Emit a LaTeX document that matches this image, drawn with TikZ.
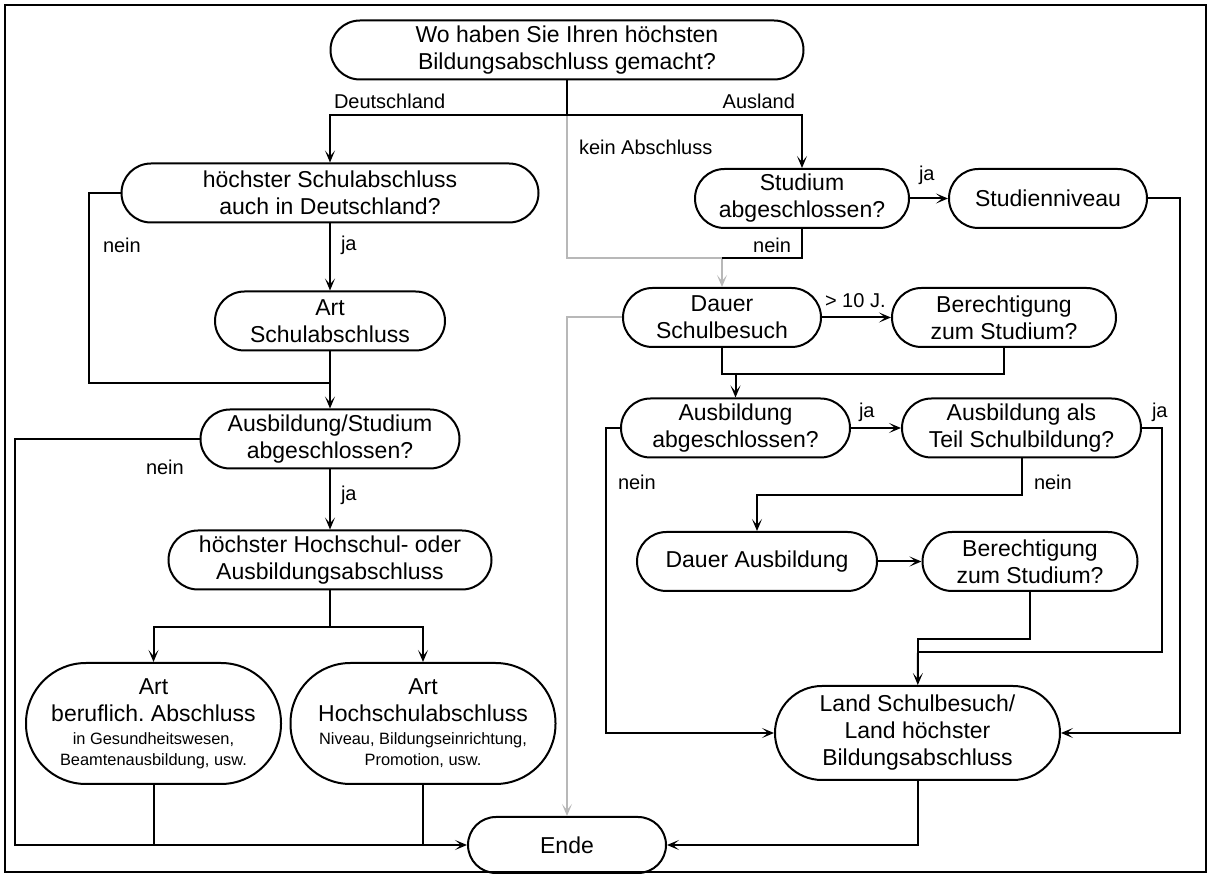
\documentclass[tikz,border=0pt]{standalone}
\usepackage{fontspec}
\setmainfont{Liberation Sans}
\usepackage{xcolor}
\usetikzlibrary{arrows.meta, positioning}
\definecolor{lightline}{gray}{0.72}
\newcommand{\boxfont}{\fontsize{11.5}{13.5}\selectfont}
\newcommand{\labelfont}{\fontsize{10}{12}\selectfont}
\newcommand{\notefont}{\fontsize{8.2}{9.4}\selectfont}

\begin{document}
\begin{tikzpicture}
      [x=0.5pt, y=-0.5pt, line width=1pt,
       >={Stealth[length=6pt,width=5pt,inset=3pt]},
       pill/.style={rectangle, draw=black, line width=1pt, rounded corners=14.75pt,
                    inner sep=0pt, align=center, font=\boxfont, minimum height=29.5pt},
       tag/.style={inner sep=0pt, font=\labelfont},
       faint/.style={draw=lightline}]
        \useasboundingbox (0,0) rectangle (1212,876);
        \draw[line width=0.8pt] (5,5) rectangle (1206,872);

        % left column
        \node (wo) at (567,50) [pill, minimum width=236.5pt] {Wo haben Sie Ihren höchsten\\Bildungsabschluss gemacht?};
        \node (schul) at (330,193) [pill, minimum width=208.5pt] {höchster Schulabschluss\\auch in Deutschland?};
        \node (artschul) at (330,321) [pill, minimum width=115pt] {Art\\Schulabschluss};
        \node (ausstud) at (330,439) [pill, minimum width=129.5pt] {Ausbildung/Studium\\abgeschlossen?};
        \node (hochaus) at (330,560) [pill, minimum width=161.5pt] {höchster Hochschul- oder\\Ausbildungsabschluss};
        \node (artberuf) at (153.5,723.5) [pill, minimum width=127.5pt, minimum height=60.5pt, rounded corners=30pt]
          {Art\\beruflich.\ Abschluss\\[-2pt]{\notefont in Gesundheitswesen,}\\[-3pt]{\notefont Beamtenausbildung, usw.}};
        \node (arthoch) at (423,723.5) [pill, minimum width=132.5pt, minimum height=60.5pt, rounded corners=30pt]
          {Art\\Hochschulabschluss\\[-2pt]{\notefont Niveau, Bildungseinrichtung,}\\[-3pt]{\notefont Promotion, usw.}};
        \node (ende) at (567,845) [pill, minimum width=99pt, minimum height=28pt, rounded corners=14pt] {Ende};

        % right column
        \node (studium) at (802,198.5) [pill, minimum width=107pt] {Studium\\abgeschlossen?};
        \node (niveau) at (1048,198.5) [pill, minimum width=99pt] {Studienniveau};
        \node (dauer) at (722,317.5) [pill, minimum width=99pt] {Dauer\\Schulbesuch};
        \node (berech1) at (1004,317.5) [pill, minimum width=112pt] {Berechtigung\\zum Studium?};
        \node (ausabg) at (735.5,428) [pill, minimum width=114.5pt] {Ausbildung\\abgeschlossen?};
        \node (austeil) at (1021.5,428) [pill, minimum width=119.5pt] {Ausbildung als\\Teil Schulbildung?};
        \node (dauerausb) at (757,561.5) [pill, minimum width=120pt] {Dauer Ausbildung};
        \node (berech2) at (1030,561.5) [pill, minimum width=107.5pt] {Berechtigung\\zum Studium?};
        \node (land) at (917.5,733) [pill, minimum width=142.5pt, minimum height=47pt, rounded corners=23.5pt]
          {Land Schulbesuch/\\Land höchster\\Bildungsabschluss};

        % labels
        \node (tDe) at (333,101) [tag, anchor=west] {Deutschland};
        \node (tAus) at (796,101) [tag, anchor=east] {Ausland};
        \node (tkein) at (578,147) [tag, anchor=west] {kein Abschluss};
        \node (tnein1) at (102,245) [tag, anchor=west] {nein};
        \node (tja1) at (340,245) [tag, anchor=west] {ja};
        \node (tnein2) at (145,467) [tag, anchor=west] {nein};
        \node (tja2) at (340,495) [tag, anchor=west] {ja};
        \node (tja3) at (918,175) [tag, anchor=west] {ja};
        \node (tnein3) at (792,245) [tag, anchor=east] {nein};
        \node (tgt) at (824,301) [tag, anchor=west] {> 10 J.};
        \node (tja4) at (858,412) [tag, anchor=west] {ja};
        \node (tja5) at (1151,412) [tag, anchor=west] {ja};
        \node (tnein4) at (617,482) [tag, anchor=west] {nein};
        \node (tnein5) at (1033,482) [tag, anchor=west] {nein};

        \coordinate (split) at (567,115);
        \coordinate (merge) at (722,258);
        \coordinate (joinA) at (330,383);
        \coordinate (joinB) at (330,627);
        \coordinate (joinC) at (735.5,373);
        \coordinate (joinD) at (918,652);

        % kein Abschluss
        \draw[faint] (split) |- (merge);
        \draw[faint,->] (merge) -- (dauer);
        \draw[faint,->] (dauer.west) -| (ende.north);

        \draw (wo) -- (split);
        \draw[->] (split) -| (schul.north);
        \draw[->] (split) -| (studium.north);
        \draw (studium.south) |- (merge);

        \draw[->] (schul) -- (artschul);
        \draw (schul.west) -- ++(-32,0) |- (joinA);
        \draw (artschul) -- (joinA);
        \draw[->] (joinA) -- (ausstud);
        \draw[->] (ausstud) -- (hochaus);
        \draw[->] (ausstud.west) -- ++(-185,0) |- (ende.west);
        \draw (hochaus) -- (joinB);
        \draw[->] (joinB) -| (artberuf.north);
        \draw[->] (joinB) -| (arthoch.north);
        \draw (artberuf) -- (artberuf.south |- ende.west);
        \draw (arthoch) -- (arthoch.south |- ende.west);

        \draw[->] (studium) -- (niveau);
        \draw[->] (niveau.east) -- ++(32,0) |- (land.east);
        \draw[->] (dauer) -- (berech1);
        \draw (dauer.south) -- ++(0,26) -| (berech1.south);
        \draw[->] (joinC) -- (ausabg);
        \draw[->] (ausabg) -- (austeil);
        \draw[->] (ausabg.west) -- ++(-14,0) |- (land.west);
        \draw (austeil.east) -- ++(20,0) |- (joinD);
        \draw[->] (austeil.south) -- ++(0,37) -| (dauerausb.north);
        \draw[->] (dauerausb) -- (berech2);
        \draw (berech2.south) -- ++(0,47) -| (joinD);
        \draw[->] (joinD) -- (land);
        \draw[->] (land.south) |- (ende.east);
      \end{tikzpicture}
\end{document}
